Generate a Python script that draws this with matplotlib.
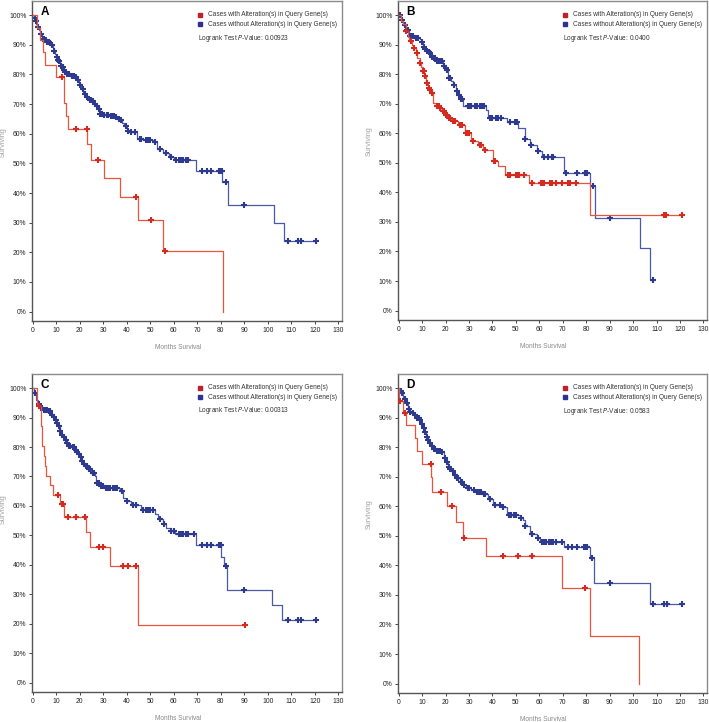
import numpy as np
import matplotlib
matplotlib.use("Agg")
import matplotlib.pyplot as plt

plt.rcParams['font.family'] = ['Liberation Sans', 'DejaVu Sans']

# ---------------- data ----------------
panel_letters = ["A", "B", "C", "D"]
p_values = ["0.00923", "0.0400", "0.00313", "0.0583"]
legend_labels = ["Cases with Alteration(s) in Query Gene(s)",
                 "Cases without Alteration(s) in Query Gene(s)"]
x_ticks = [0, 10, 20, 30, 40, 50, 60, 70, 80, 90, 100, 110, 120, 130]
y_ticks = [0, 10, 20, 30, 40, 50, 60, 70, 80, 90, 100]

# Panel A
a_red_t = [2, 3, 4.5, 5.1, 9.8, 13.2, 14.2, 14.9, 23.2, 24.9, 30.3, 37.0, 44.8, 55.4, 80.9]
a_red_s = [95.8, 91.7, 87.5, 83.3, 79.2, 70.4, 66.0, 61.5, 56.4, 51.3, 44.9, 38.5, 30.8, 20.5, 0]
a_red_c = [12.5, 18.2, 23.0, 27.8, 43.9, 50.5, 56.2]
a_blue_t = [0.5, 1, 1.5, 2, 2.5, 3, 4, 5, 6, 7, 8, 8.5, 9, 9.5, 10, 10.5, 11, 11.5, 12, 12.5, 13,
            13.5, 14, 16, 18, 19, 19.5, 20, 20.5, 21, 21.5, 22, 22.5, 23, 23.5, 24, 25, 26, 27, 28,
            28.5, 30, 33, 35, 36, 37, 38, 39, 40, 41, 44.5, 47, 51, 53, 55.5, 58, 60, 69.5, 80.5,
            83, 102.5, 106.7]
a_blue_s = [99, 98, 97, 96, 95, 93.5, 92, 91.5, 91, 90.5, 90, 89, 88, 87, 86, 85, 84.5, 84, 83,
            82.5, 81.5, 81, 80, 79.5, 79, 78, 77, 76.5, 75.5, 75, 74, 73.5, 73, 72.5, 72, 71.5, 71,
            70, 69.3, 68.5, 66.8, 66.3, 66, 65.5, 65, 64.5, 63.5, 62.5, 61, 60.5, 58.3, 58, 57.2,
            54.8, 53.5, 52.3, 51, 47.3, 43.8, 35.8, 29.9, 23.9]
a_blue_c = [0.8, 1.2, 2.2, 3.5, 4.2, 4.8, 5.5, 6.2, 6.8, 7.5, 8.2, 9.2, 10.2, 10.8, 11.2, 12.2,
            12.8, 13.2, 13.8, 14.5, 15, 15.5, 16.5, 17, 17.5, 18.5, 19.2, 20.2, 21.2, 22.2, 23.2,
            24.2, 24.7, 25.5, 26.5, 27.5, 28.2, 28.8, 29.5, 30.5, 31.5, 32, 33.5, 34, 34.5, 35.5,
            36.5, 37.5, 39.5, 40.5, 42, 43.5, 45.5, 46, 48, 49, 50, 52, 54, 56.5, 59, 61, 62, 63,
            64, 65, 66, 72, 74, 76, 79, 79.5, 80, 80.3, 82, 90, 108.5, 113, 114, 120.5]

# Panel B
b_red_t = [1, 2, 3, 4, 4.6, 5.5, 6, 7.4, 8, 8.9, 9.5, 10.3, 11, 11.7, 12.4, 13, 13.6, 14.6, 16,
           17.4, 18.4, 19.6, 21, 22.4, 25.3, 28.1, 31, 33.9, 36, 40.3, 42.4, 45.3, 55.6, 81.4]
b_red_s = [98, 97, 94.6, 92.5, 91.2, 90, 88.9, 87.2, 85.5, 83.8, 82.4, 81, 79.3, 77, 75.4, 74.5,
           73.7, 70.3, 69.4, 68.6, 67.5, 66.3, 65.2, 64.1, 62.9, 60.1, 57.3, 55.9, 54.5, 50.5,
           48.8, 45.8, 43.2, 32.4]
b_red_c = [3.3, 5.2, 6.5, 7.8, 9.2, 10.5, 10.8, 11.3, 12, 12.8, 13.3, 14, 14.3, 16.5, 17, 17.8,
           18.8, 19.2, 20.2, 20.6, 21.5, 22, 23, 24, 26.2, 27, 28.5, 29.3, 29.8, 31.5, 34.5, 35.2,
           36.8, 40.5, 41, 46.5, 47.5, 50, 51, 51.5, 53.5, 57, 60.5, 61.5, 62, 64.5, 65.5, 67,
           69.8, 72, 73, 75.5, 113, 114, 121]
b_blue_t = [1, 1.7, 3.1, 4.6, 6.7, 8.9, 9.6, 10.3, 11, 11.7, 12.5, 13.1, 14, 14.6, 16, 18.9,
            19.6, 20.3, 21, 22.4, 23.1, 24.6, 25.3, 26, 27.4, 37.4, 38.1, 46, 51, 53.9, 56, 58.9,
            61, 70.3, 81.7, 83.9, 103.1, 107.4]
b_blue_s = [98.5, 96.8, 94.9, 92.9, 92.3, 92, 90.8, 89.3, 88.6, 88, 87.5, 87.2, 86, 85.5, 84.6,
            82.7, 82, 81.4, 78.8, 77.6, 76.2, 74.2, 73, 71.6, 69.4, 68, 65.3, 63.7, 61.8, 58.2,
            56.2, 54.1, 52, 46.6, 42, 31.3, 21.1, 10.4]
b_blue_c = [0.5, 1.3, 2.5, 3.5, 4, 5, 5.5, 6, 7.2, 7.8, 8.3, 10, 10.7, 11.3, 12, 12.8, 13.5,
            14.3, 15, 15.5, 16.5, 17, 17.5, 18, 18.5, 19.3, 20, 20.7, 21.5, 22, 23.5, 25, 25.7,
            26.5, 27, 29.5, 30.5, 31, 32.5, 33.5, 34.5, 35.5, 36.5, 39, 40, 41.5, 42.5, 43.5,
            47.5, 49.5, 50.5, 54, 56.5, 59.5, 62, 63.5, 65.5, 66, 71.5, 76, 79.5, 80, 80.5, 83,
            90, 108.6]

# Panel C
c_red_t = [1.8, 3.7, 4.1, 4.7, 5.1, 5.8, 7.2, 8.6, 11.8, 13.2, 22.8, 24.5, 32.7, 44.8]
c_red_s = [93.9, 87, 80.3, 76.9, 73.5, 70.3, 67.1, 63.7, 60.5, 56.3, 51, 45.9, 39.5, 19.7]
c_red_c = [2.7, 10.8, 12.6, 13, 15, 18.5, 22.3, 28, 30, 38.3, 40.7, 44, 90.3]
c_blue_t = [0.6, 1.2, 1.6, 2.2, 3, 4.4, 6.5, 7.9, 8.6, 9.3, 10, 10.8, 11.5, 12.2, 13, 13.6,
            14.3, 15, 16.4, 17.8, 18.5, 19.3, 20, 20.7, 21.4, 22.1, 23.5, 24.9, 26.3, 27.1, 28.5,
            30.6, 37, 38.4, 39.8, 41.9, 46.2, 51.8, 53.3, 55.4, 56.8, 58.9, 60.3, 69.5, 80.2,
            81.2, 82.7, 101.8, 106.1]
c_blue_s = [98.3, 97, 96, 94.5, 93.2, 92.7, 92.1, 91, 90.2, 89.3, 88, 87, 85.5, 84.2, 83.4,
            82.5, 81.3, 80.3, 79.9, 79.1, 78.3, 77.5, 76.5, 75.2, 74.3, 73.5, 72.4, 71.3, 70.1,
            67.9, 66.7, 66.2, 65, 62.8, 61.7, 60.3, 58.6, 57.2, 55.5, 53.8, 52.6, 51.5, 50.4,
            46.7, 42.5, 39.7, 31.6, 26.2, 21.1]
c_blue_c = [1, 2.6, 3.5, 4, 5, 5.5, 6, 7, 7.5, 8.2, 9, 9.7, 10.4, 11, 11.8, 12.6, 13.3, 14,
            14.7, 15.5, 16, 17, 17.5, 18.2, 19, 19.7, 20.4, 21, 21.8, 22.5, 23, 24, 24.5, 25.5,
            26, 27.5, 28, 29, 30, 31, 32, 33, 34, 35, 36, 38, 40, 42.5, 44, 47, 48, 49, 50, 51,
            54, 56, 59, 60, 62, 63, 64, 65, 66, 68.5, 72, 74, 76, 79, 79.5, 80, 82, 90, 108.5,
            113, 114, 120.5]

# Panel D
d_red_t = [0.3, 1.7, 3.1, 7.1, 7.9, 10, 13.8, 14.1, 20.7, 24.6, 27.4, 37.4, 69.6, 81.7, 102.4]
d_red_s = [95.8, 91.7, 87.5, 83.1, 78.8, 74.2, 69.8, 65, 60.2, 54.6, 49.2, 43.2, 32.2, 16, 0]
d_red_c = [0.7, 2.7, 13.6, 18.1, 22.7, 27.7, 44.3, 51, 56.7, 79.3]
d_blue_t = [0.5, 1, 2, 3.1, 4, 4.6, 5.5, 6.7, 7.5, 8.9, 9.5, 10.3, 11, 11.7, 12.4, 13.1, 13.8,
            14.6, 16, 18.1, 19.3, 20, 21, 21.7, 22.4, 23.5, 24.6, 26, 27.4, 28.9, 31, 33.1, 36,
            38.1, 40.3, 43.9, 46, 51.7, 53.1, 53.9, 56, 58.9, 60.3, 70.3, 81.7, 83.1, 107.1]
d_blue_s = [99, 98.3, 96.5, 94.9, 93, 92.1, 91.5, 91, 90, 89.3, 88, 86.4, 85, 83.6, 82.5, 81.4,
            80.3, 79.3, 78.9, 78.5, 76.3, 75, 73.4, 72.6, 71.8, 70.6, 69.5, 68.4, 67.2, 66.1,
            65.5, 65, 64.2, 62.4, 60.5, 59.9, 57.1, 55.9, 55.4, 53.3, 50.8, 49.2, 48, 46.1, 42.4,
            34.1, 27.1]
d_blue_c = [0.8, 1.5, 2.5, 3.5, 4.3, 5, 6, 7, 8, 8.5, 9.2, 10, 10.7, 11.3, 12, 12.7, 13.4,
            14.2, 15, 15.5, 16.5, 17, 17.5, 18.5, 19.7, 20.5, 21.3, 22, 23, 24, 25, 25.5, 26.5,
            27, 28, 29.5, 30, 32, 33.5, 34, 34.5, 35, 36.5, 37, 39, 41, 43, 44.5, 47, 48, 49, 50,
            52, 54, 57, 59.5, 61, 62, 63, 64, 65, 66, 67, 69.5, 72, 74, 76, 79, 79.5, 80, 80.5,
            82.5, 90, 108.6, 113, 114.5, 121]

red_series = [(a_red_t, a_red_s, a_red_c), (b_red_t, b_red_s, b_red_c),
              (c_red_t, c_red_s, c_red_c), (d_red_t, d_red_s, d_red_c)]
blue_series = [(a_blue_t, a_blue_s, a_blue_c), (b_blue_t, b_blue_s, b_blue_c),
               (c_blue_t, c_blue_s, c_blue_c), (d_blue_t, d_blue_s, d_blue_c)]

# ---------------- style ----------------
RED_LINE = "#e8553e"
RED_MARK = "#d42a20"
BLUE_LINE = "#4a58a8"
BLUE_MARK = "#2e3a8f"
RED_SQ = "#c0202a"
BLUE_SQ = "#2e3192"
FS_LEG = 4.7
FS_TICK = 4.9

W, H = 709, 722
fig = plt.figure(figsize=(W / 100, H / 100), dpi=100)

# axes boxes in pixels (left, top, right, bottom)
boxes = [(32, 1, 342, 321), (398, 1, 707, 320), (32, 374, 342, 692), (398, 374, 707, 693)]
ylabel_y = [0.56, 0.56, 0.575, 0.56]


def km_arrays(t, s, c):
    end = max(max(t), max(c) if len(c) else 0)
    tt = np.concatenate([[0.0], np.asarray(t, float), [end]])
    ss = np.concatenate([[100.0], np.asarray(s, float), [s[-1]]])
    ct = np.asarray(c, float)
    idx = np.searchsorted(tt[:-1], ct, side="right") - 1
    cs = ss[idx]
    return tt, ss, ct, cs


for i, (l, t, r, b) in enumerate(boxes):
    ax = fig.add_axes([l / W, 1 - b / H, (r - l) / W, (b - t) / H])
    ax.set_xlim(-0.3, 131.5)
    ax.set_ylim(-3.2, 104.8)

    for (st, ss_, sc), lc, mc, z in [(blue_series[i], BLUE_LINE, BLUE_MARK, 2),
                                     (red_series[i], RED_LINE, RED_MARK, 3)]:
        tt, ss, ct, cs = km_arrays(st, ss_, sc)
        ax.step(tt, ss, where="post", color=lc, lw=0.9, zorder=z)
        ax.plot(ct, cs, ls="none", marker="+", ms=4.8, mew=1.5, color=mc, zorder=z + 0.5)

    ax.set_xticks(x_ticks)
    ax.set_yticks(y_ticks)
    ax.set_yticklabels([f"{v}%" for v in y_ticks])
    ax.tick_params(axis="both", direction="out", length=2.5, width=0.7, colors="#444444",
                   labelsize=FS_TICK, pad=1.5, labelcolor="#222222")
    for side in ["top", "right"]:
        ax.spines[side].set_color("#8a8a8a")
        ax.spines[side].set_linewidth(1.0)
    for side in ["left", "bottom"]:
        ax.spines[side].set_color("#555555")
        ax.spines[side].set_linewidth(1.0)

    ax.set_ylabel("Surviving", fontsize=5.2, color="#a0a0a0")
    ax.yaxis.set_label_coords(-25.5 / (r - l), ylabel_y[i])
    ax.set_xlabel("Months Survival", fontsize=FS_LEG, color="#888888")
    ax.xaxis.set_label_coords(0.47, -23 / (b - t))

    ax.text(0.028, 0.985, panel_letters[i], transform=ax.transAxes, fontsize=8.5,
            fontweight="bold", va="top", ha="left")

    ax.plot([0.542], [0.957], transform=ax.transAxes, marker="s", ms=3.0, color=RED_SQ,
            ls="none", clip_on=False)
    ax.plot([0.542], [0.927], transform=ax.transAxes, marker="s", ms=3.0, color=BLUE_SQ,
            ls="none", clip_on=False)
    ax.text(0.567, 0.957, legend_labels[0], transform=ax.transAxes, fontsize=FS_LEG,
            color="#333333", va="center", ha="left")
    ax.text(0.567, 0.927, legend_labels[1], transform=ax.transAxes, fontsize=FS_LEG,
            color="#333333", va="center", ha="left")
    ax.text(0.535, 0.884, "Logrank Test $\\it{P}$-Value: " + p_values[i],
            transform=ax.transAxes, fontsize=FS_LEG, color="#333333", va="center", ha="left")

fig.savefig("out.png", dpi=100)
